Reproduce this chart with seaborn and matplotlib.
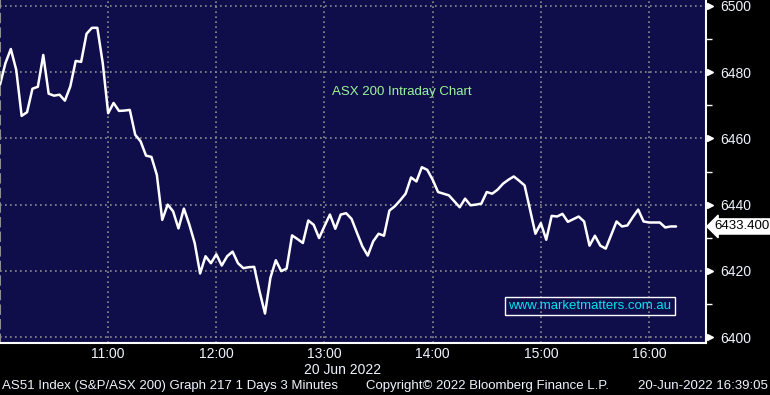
import matplotlib
matplotlib.use("Agg")
import matplotlib.pyplot as plt
import numpy as np
import pandas as pd
import seaborn as sns

# ---- data (3-minute bars, 20 Jun 2022, starting 10:00) ----
start_hour = 10.0
step_minutes = 3
prices = [
    6476.2, 6482.7, 6487.0, 6480.7, 6466.8, 6467.9, 6475.0, 6475.6, 6485.2, 6473.5,
    6472.9, 6473.2, 6471.4, 6475.7, 6483.4, 6483.1, 6491.6, 6493.4, 6493.4, 6482.7,
    6467.6, 6470.7, 6468.3, 6468.4, 6468.6, 6461.1, 6459.1, 6454.8, 6454.4, 6449.0,
    6435.4, 6440.0, 6438.0, 6432.8, 6438.8, 6434.0, 6428.4, 6419.2, 6424.4, 6422.3,
    6425.0, 6421.6, 6424.4, 6425.8, 6422.3, 6420.8, 6421.1, 6421.2, 6413.7, 6407.1,
    6417.9, 6423.2, 6419.9, 6420.7, 6430.7, 6429.6, 6428.4, 6435.2, 6433.9, 6429.9,
    6433.5, 6437.0, 6432.7, 6437.0, 6437.4, 6435.7, 6431.5, 6427.4, 6424.6, 6428.9,
    6431.2, 6430.6, 6438.2, 6439.5, 6441.3, 6443.3, 6448.2, 6447.0, 6451.3, 6450.5,
    6447.5, 6443.8, 6443.3, 6442.8, 6441.0, 6439.2, 6441.8, 6439.8, 6440.0, 6440.3,
    6443.8, 6443.3, 6444.5, 6446.3, 6447.5, 6448.5, 6447.2, 6445.8, 6438.5, 6431.2,
    6434.4, 6429.4, 6436.6, 6436.4, 6437.2, 6434.8, 6435.6, 6436.4, 6434.9, 6427.6,
    6430.6, 6427.6, 6426.7, 6430.8, 6434.9, 6433.4, 6433.7, 6436.2, 6438.5, 6434.9,
    6434.6, 6434.6, 6434.6, 6433.1, 6433.4, 6433.4,
]
last_price_label = "6433.400"
x_tick_hours = [11, 12, 13, 14, 15, 16]
x_tick_labels = ["11:00", "12:00", "13:00", "14:00", "15:00", "16:00"]
y_ticks = [6400, 6420, 6440, 6460, 6480, 6500]
y_tick_labels = ["6400", "6420", "6440", "6460", "6480", "6500"]
title_text = "ASX 200 Intraday Chart"
date_text = "20 Jun 2022"
footer_left = "AS51 Index (S&P/ASX 200) Graph 217 1 Days 3 Minutes"
footer_mid = "Copyright\u00a9 2022 Bloomberg Finance L.P."
footer_right = "20-Jun-2022 16:39:05"
watermark = "www.marketmatters.com.au"

hours = [start_hour + i * step_minutes / 60 for i in range(len(prices))]
df = pd.DataFrame({"hour": hours, "price": prices})

sns.set_style("dark")
plt.rcParams["font.family"] = ["Liberation Sans", "DejaVu Sans"]

W, H = 770, 395
fig = plt.figure(figsize=(W / 100, H / 100), dpi=100, facecolor="black")
ax = fig.add_axes([0, 1 - 343 / H, 706 / W, 343 / H])
ax.set_facecolor("#0f0d4a")

sns.lineplot(data=df, x="hour", y="price", ax=ax, color="white", linewidth=1.8)

ax.set_xlim(10.0, 16.527)
ax.set_ylim(6398.2, 6501.8)
ax.set_xlabel("")
ax.set_ylabel("")

# x axis
ax.set_xticks(x_tick_hours)
ax.set_xticklabels(x_tick_labels)
ax.set_xticks([h + 0.5 for h in [10] + x_tick_hours], minor=True)
ax.tick_params(axis="x", which="both", colors="white", length=2.8, width=1,
               direction="out", labelsize=10, labelcolor="#eef4ff", pad=0.3)

# y axis on the right
ax.yaxis.tick_right()
ax.set_yticks(y_ticks)
ax.set_yticklabels(y_tick_labels)
ax.set_yticks([v + 10 for v in y_ticks[:-1]], minor=True)
ax.tick_params(axis="y", which="major", length=0, labelsize=10,
               labelcolor="#eef4ff", pad=10)
ax.tick_params(axis="y", which="minor", length=4, width=1, colors="white",
               direction="out")
ax.plot(np.full(len(y_ticks), 1.006), y_ticks, linestyle="none", marker=">",
        markersize=5, color="white", transform=ax.get_yaxis_transform(),
        clip_on=False)

ax.grid(which="major", color="#8e8e8e", linestyle=(0, (1, 2)), linewidth=1.2)
ax.grid(which="minor", visible=False)

ax.spines["top"].set_visible(False)
ax.spines["right"].set_color("white")
ax.spines["right"].set_linewidth(1.5)
ax.spines["bottom"].set_color("white")
ax.spines["bottom"].set_linewidth(1.5)
ax.spines["left"].set_color("#8e8e8e")
ax.spines["left"].set_linestyle((0, (4, 3)))
ax.spines["left"].set_linewidth(1.5)

# last price tag
ax.text(1.0125, prices[-1], last_price_label, transform=ax.get_yaxis_transform(),
        ha="left", va="center", color="black", fontsize=9.5, clip_on=False,
        bbox=dict(boxstyle="larrow,pad=0.12", fc="white", ec="white"))

# annotations
fig.text(402 / W, 1 - 92 / H, title_text, color="#9af59a", ha="center",
         va="center", fontsize=9.5)
fig.text(590 / W, 1 - 306 / H, watermark, color="#00e3f0", ha="center",
         va="center", fontsize=9.5,
         bbox=dict(boxstyle="square,pad=0.25", fc="none", ec="white", lw=1))
fig.text(343 / W, 1 - 370 / H, date_text, color="#eef4ff", ha="center",
         va="center", fontsize=10)
fig.text(2 / W, 1 - 386 / H, footer_left, color="#eef4ff", ha="left",
         va="center", fontsize=9.5)
fig.text(366 / W, 1 - 386 / H, footer_mid, color="#eef4ff", ha="left",
         va="center", fontsize=9.5)
fig.text(768 / W, 1 - 386 / H, footer_right, color="#eef4ff", ha="right",
         va="center", fontsize=9.5)

fig.savefig("out.png", dpi=100, facecolor="black")
